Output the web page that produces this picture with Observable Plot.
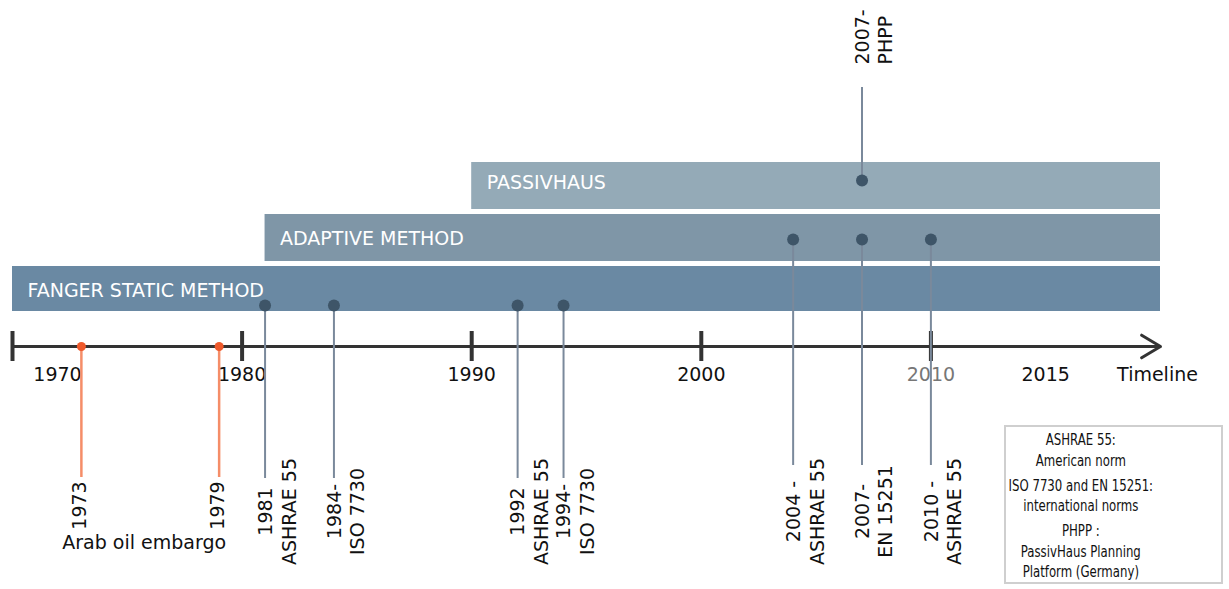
<!DOCTYPE html>
<html>
<head>
<meta charset="utf-8">
<script src="https://cdn.jsdelivr.net/npm/d3@7"></script>
<script src="https://cdn.jsdelivr.net/npm/@observablehq/plot@0.6"></script>
<style>
  html, body { margin: 0; padding: 0; background: #fff; }
  #wrap { position: relative; width: 1229px; height: 589px; font-family: "DejaVu Sans", Verdana, sans-serif; }
  #legend {
    position: absolute; left: 1004px; top: 425px; width: 219px; height: 159px;
    border: 2px solid #cfcfcf; box-sizing: border-box;
    font-family: "DejaVu Sans Condensed", "DejaVu Sans", sans-serif; font-size: 15px; color: #111;
  }
  #legend .inner { width: 172px; padding-top: 3px; text-align: center; line-height: 20.5px;
    transform: scaleX(0.87); transform-origin: 0 0; }
  #legend .grp { margin-bottom: 4.5px; }
</style>
</head>
<body>
<div id="wrap">
  <div id="chart"></div>
  <div id="legend"><div class="inner" id="legendInner"></div></div>
</div>
<script>
// ---- Data ----
const methodNames = ["FANGER STATIC METHOD", "ADAPTIVE METHOD", "PASSIVHAUS"];
const methodStart = [1970, 1981, 1990];
const methodEnd   = [2020, 2020, 2020];

const eventYears  = [1973, 1979, 1981, 1984, 1992, 1994, 2004, 2007, 2010, 2007];
const eventLabels = ["1973", "1979", "1981\nASHRAE 55", "1984-\nISO 7730", "1992\nASHRAE 55",
                     "1994-\nISO 7730", "2004 -\nASHRAE 55", "2007-\nEN 15251", "2010 -\nASHRAE 55", "2007-\nPHPP"];
const eventGroups = ["crisis", "crisis", "fanger", "fanger", "fanger", "fanger",
                     "adaptive", "adaptive", "adaptive", "passiv"];
const crisisCaption = "Arab oil embargo";

const tickYears = [1970, 1980, 1990, 2000, 2010];
const tickLabelYears = [1970, 1980, 1990, 2000, 2010, 2015];
const tickLabels = ["1970", "1980", "1990", "2000", "2010", "2015"];
const axisStart = 1970, axisEnd = 2020, axisTitle = "Timeline";

const legendGroups = [["ASHRAE 55:", "American norm"],
                      ["ISO 7730 and EN 15251:", "international norms"],
                      ["PHPP :", "PassivHaus Planning", "Platform (Germany)"]];

// ---- Layout (pixels) ----
const BAR = {
  "FANGER STATIC METHOD": {y1: 266, y2: 311, ly: 290, fill: "#6a89a3"},
  "ADAPTIVE METHOD":      {y1: 214, y2: 261, ly: 238, fill: "#7f96a7"},
  "PASSIVHAUS":           {y1: 162, y2: 209, ly: 182, fill: "#94aab7"}
};
const GRP = {
  crisis:   {dotY: 346, lineTo: 477, labY: 505},
  fanger:   {dotY: 305, lineTo: 478, labY: 511},
  adaptive: {dotY: 239, lineTo: 465, labY: 511},
  passiv:   {dotY: 180, lineTo: 87,  labY: 64}
};
const AXIS_Y = 346;

const methods = methodNames.map((name, i) => ({name, start: methodStart[i], end: methodEnd[i]}));
const events = eventYears.map((year, i) => ({year, label: eventLabels[i], group: eventGroups[i]}));
const ticks = tickLabelYears.map((year, i) => ({year, label: tickLabels[i]}));
const crisis = events.filter(d => d.group === "crisis");
const norms = events.filter(d => d.group === "fanger" || d.group === "adaptive");
const phpp = events.filter(d => d.group === "passiv");

const GRAY_LINE = "#7a899b", DOT = "#3e5568";
const FS = 19;

const chart = Plot.plot({
  width: 1229, height: 589, margin: 0,
  x: {domain: [axisStart, axisEnd], range: [12, 1160], axis: null},
  y: {type: "identity", axis: null},
  style: {fontFamily: "DejaVu Sans, Verdana, sans-serif", background: "white"},
  marks: [
    // method bars
    Plot.rect(methods, {x1: "start", x2: "end", y1: d => BAR[d.name].y1, y2: d => BAR[d.name].y2,
      fill: d => BAR[d.name].fill}),
    Plot.text(methods, {x: "start", y: d => BAR[d.name].ly, text: "name", textAnchor: "start",
      dx: 15, fill: "white", fontSize: FS}),
    // axis
    Plot.arrow([0], {x1: () => axisStart, x2: () => axisEnd, y1: () => AXIS_Y, y2: () => AXIS_Y,
      stroke: "#333", strokeWidth: 3, headLength: 11, headAngle: 62, insetStart: 0, insetEnd: 0}),
    Plot.ruleX(tickYears, {x: d => d, y1: 331, y2: 361, stroke: "#333", strokeWidth: 4}),
    Plot.text(ticks.filter(d => d.year !== 1970 && d.year !== 2010), {x: "year", y: 374, text: "label", fontSize: FS, fill: "#111"}),
    Plot.text(ticks.filter(d => d.year === 2010), {x: "year", y: 374, text: "label", fontSize: FS, fill: "#777"}),
    Plot.text(ticks.filter(d => d.year === 1970), {x: "year", y: 374, text: "label", dx: 45, fontSize: FS, fill: "#111"}),
    Plot.text([axisTitle], {x: () => axisEnd, y: 374, text: d => d, dx: -3, fontSize: FS, fill: "#111"}),
    // crisis events
    Plot.ruleX(crisis, {x: "year", y1: d => GRP[d.group].dotY, y2: d => GRP[d.group].lineTo, stroke: "#f58d68", strokeWidth: 2.5}),
    Plot.dot(crisis, {x: "year", y: d => GRP[d.group].dotY, r: 4.5, fill: "#ef5a2c"}),
    Plot.text(crisis, {x: "year", y: d => GRP[d.group].labY, text: "label", rotate: -90, textAnchor: "middle",
      dx: -1, fontSize: FS, fill: "#111"}),
    Plot.text([crisisCaption], {x: () => crisis[crisis.length - 1].year, y: 542, text: d => d,
      textAnchor: "end", dx: 7, fontSize: FS, fill: "#111"}),
    // norm events
    Plot.ruleX(norms.concat(phpp), {x: "year", y1: d => GRP[d.group].dotY, y2: d => GRP[d.group].lineTo, stroke: GRAY_LINE, strokeWidth: 2}),
    Plot.dot(norms.concat(phpp), {x: "year", y: d => GRP[d.group].dotY, r: 6, fill: DOT}),
    Plot.text(norms, {x: "year", y: d => GRP[d.group].labY, text: "label", rotate: -90, textAnchor: "middle",
      lineAnchor: "middle", lineHeight: 1.25, dx: 11, fontSize: FS, fill: "#111"}),
    Plot.text(phpp, {x: "year", y: d => GRP[d.group].labY, text: "label", rotate: -90, textAnchor: "start",
      lineAnchor: "middle", lineHeight: 1.25, dx: 11, fontSize: FS, fill: "#111"})
  ]
});
document.getElementById("chart").appendChild(chart);

const inner = document.getElementById("legendInner");
legendGroups.forEach(g => {
  const div = document.createElement("div");
  div.className = "grp";
  div.innerHTML = g.map(s => `<div>${s}</div>`).join("");
  inner.appendChild(div);
});
</script>
</body>
</html>
